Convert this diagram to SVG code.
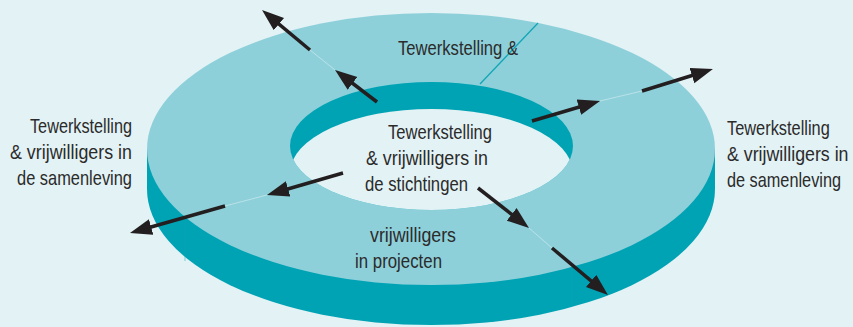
<svg xmlns="http://www.w3.org/2000/svg" width="853" height="327" viewBox="0 0 853 327">
  <defs>
    <style>
      .bg { fill: #e3f2f5; }
      .side { fill: #00a3b4; }
      .top { fill: #8ed0da; }
      .hole { fill: #e3f2f5; }
      .lbl { font-family: "Liberation Sans", Arial, sans-serif; font-size: 21px; fill: #2b2b2b; }
      .arrow { stroke: #231f20; stroke-width: 3.5; fill: none; marker-end: url(#head); }
      .faint { stroke: #c4e6eb; stroke-width: 0.8; fill: none; }
      .seam { stroke: #0fa6b7; stroke-width: 0.5; fill: none; }
      .divider { stroke: #14a6b6; stroke-width: 1.3; fill: none; }
    </style>
    <marker id="head" markerUnits="userSpaceOnUse" markerWidth="24" markerHeight="18" refX="12" refY="8" orient="auto">
      <path d="M0,0 L22,8 L0,16 z" fill="#231f20"/>
    </marker>
    <clipPath id="holeClip">
      <ellipse cx="431.5" cy="146" rx="141.5" ry="64"/>
    </clipPath>
  </defs>

  <rect class="bg" x="0" y="0" width="853" height="327"/>

  <g id="ring">
    <ellipse class="side" cx="431" cy="189" rx="284" ry="136"/>
    <rect class="side" x="147" y="149" width="568" height="40"/>
    <ellipse class="top" cx="431" cy="149" rx="284" ry="136"/>
    <ellipse class="side" cx="431.5" cy="146" rx="141.5" ry="64"/>
    <ellipse class="hole" cx="431.5" cy="173" rx="141.5" ry="64" clip-path="url(#holeClip)"/>
    <line class="divider" x1="480" y1="84" x2="538" y2="23"/>
    <line class="seam" x1="185" y1="222" x2="185" y2="261"/>
    <line class="seam" x1="572" y1="268" x2="572" y2="303"/>
  </g>

  <g id="connectors">
    <line class="faint" x1="335" y1="70" x2="310" y2="50"/>
    <line class="faint" x1="600" y1="101" x2="642" y2="91"/>
    <line class="faint" x1="267" y1="195" x2="225" y2="206"/>
    <line class="faint" x1="529" y1="228" x2="552" y2="248"/>
    <line class="arrow" x1="377" y1="102" x2="343" y2="76"/>
    <line class="arrow" x1="310" y1="50" x2="269.7" y2="16.4"/>
    <line class="arrow" x1="532" y1="121" x2="590.4" y2="103.8"/>
    <line class="arrow" x1="642" y1="91" x2="703.4" y2="72"/>
    <line class="arrow" x1="343" y1="173" x2="276.6" y2="192.2"/>
    <line class="arrow" x1="225" y1="206" x2="139.6" y2="230.3"/>
    <line class="arrow" x1="478" y1="188" x2="521.1" y2="221.8"/>
    <line class="arrow" x1="552" y1="248" x2="600.3" y2="288.6"/>
  </g>

  <g id="label-left">
    <text class="lbl" x="132" y="133" text-anchor="end" textLength="102" lengthAdjust="spacingAndGlyphs">Tewerkstelling</text>
    <text class="lbl" x="132" y="159" text-anchor="end" textLength="122" lengthAdjust="spacingAndGlyphs">&amp; vrijwilligers in</text>
    <text class="lbl" x="132" y="185" text-anchor="end" textLength="115" lengthAdjust="spacingAndGlyphs">de samenleving</text>
  </g>

  <g id="label-right" transform="translate(727,0) scale(0.75,1)">
    <text class="lbl" x="0" y="135" textLength="137" lengthAdjust="spacingAndGlyphs">Tewerkstelling</text>
    <text class="lbl" x="0" y="161" textLength="162" lengthAdjust="spacingAndGlyphs">&amp; vrijwilligers in</text>
    <text class="lbl" x="0" y="187" textLength="152" lengthAdjust="spacingAndGlyphs">de samenleving</text>
  </g>

  <g id="label-center">
    <text class="lbl" x="388" y="139" textLength="104" lengthAdjust="spacingAndGlyphs">Tewerkstelling</text>
    <text class="lbl" x="366" y="165" textLength="122" lengthAdjust="spacingAndGlyphs">&amp; vrijwilligers in</text>
    <text class="lbl" x="365" y="191" textLength="103" lengthAdjust="spacingAndGlyphs">de stichtingen</text>
  </g>

  <g id="label-top">
    <text class="lbl" x="398" y="55" textLength="120" lengthAdjust="spacingAndGlyphs">Tewerkstelling &amp;</text>
  </g>

  <g id="label-bottom">
    <text class="lbl" x="370" y="242" textLength="86" lengthAdjust="spacingAndGlyphs">vrijwilligers</text>
    <text class="lbl" x="355" y="268" textLength="87" lengthAdjust="spacingAndGlyphs">in projecten</text>
  </g>
</svg>
